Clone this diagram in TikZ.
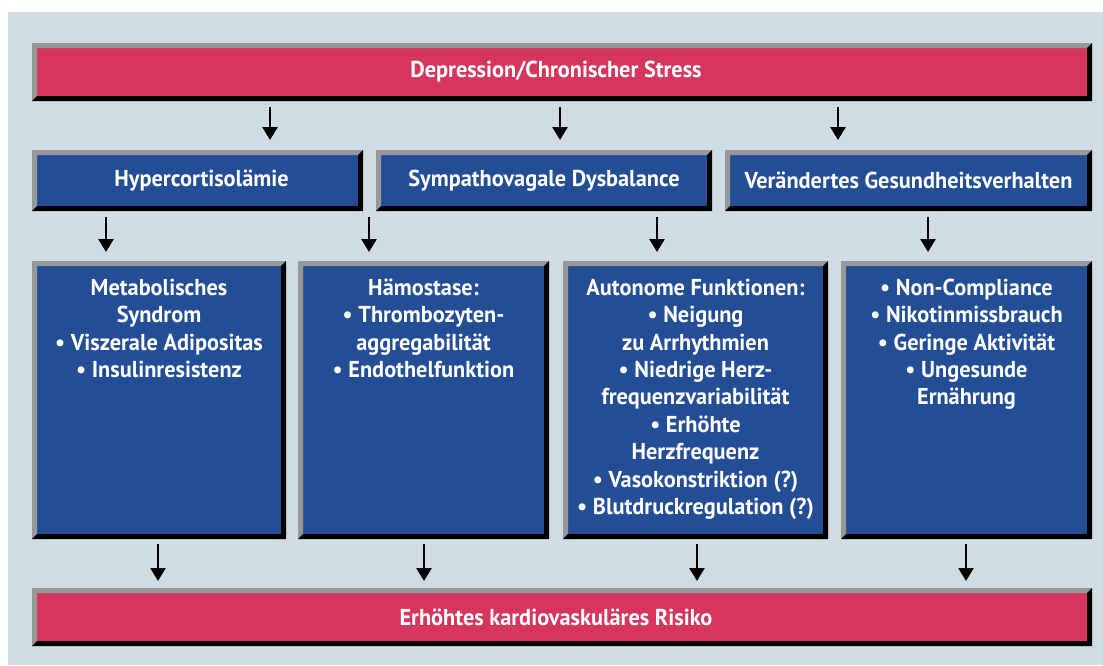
\documentclass[tikz,border=0pt]{standalone}
\usepackage{fontspec}
\setmainfont{PT Sans}[FakeStretch=0.97]
\usetikzlibrary{arrows.meta}

\definecolor{hgblau}{RGB}{207,220,228}
\definecolor{kastenrot}{RGB}{214,54,94}
\definecolor{kastenblau}{RGB}{35,78,150}
\definecolor{kantengrau}{RGB}{152,152,152}

\tikzset{
  kasten/.style={draw=none, inner sep=0pt, outer sep=0pt, anchor=north west},
  rot/.style={kasten, fill=kastenrot},
  blau/.style={kasten, fill=kastenblau},
  schrift/.style={text=white, inner sep=0pt, align=center,
    font=\bfseries\fontsize{23}{27.4}\selectfont},
  pfeil/.style={line width=2.6pt, -{Triangle[width=15pt,length=13pt]}},
}

\begin{document}
\begin{tikzpicture}[x=1pt,y=-1pt,line join=miter]
\useasboundingbox (0,0) rectangle (1103,665);
\fill[hgblau] (8,12) rectangle (1103,665);

% rote Balken oben und unten
\node[rot, minimum width=1060, minimum height=58] (stress) at (32,43) {};
\node[rot, minimum width=1060, minimum height=58] (risiko) at (32,588) {};

% mittlere Reihe
\node[blau, minimum width=331, minimum height=61] (hyper) at (32,150) {};
\node[blau, minimum width=336, minimum height=61] (sympa) at (376,150) {};
\node[blau, minimum width=367, minimum height=61] (verh) at (725,150) {};

% untere Reihe
\node[blau, minimum width=254, minimum height=278] (metab) at (32,261) {};
\node[blau, minimum width=251, minimum height=278] (haemo) at (298,261) {};
\node[blau, minimum width=265, minimum height=278] (auto) at (563,261) {};
\node[blau, minimum width=251, minimum height=278] (gesund) at (841,261) {};

% Kanten: oben/links grau, unten/rechts schwarz
\foreach \n in {stress,risiko,hyper,sympa,verh,metab,haemo,auto,gesund}{
  \fill[kantengrau] (\n.south west) -- (\n.north west) -- (\n.north east)
    -- ([shift={(-5,5)}]\n.north east) -- ([shift={(5,5)}]\n.north west)
    -- ([shift={(5,-5)}]\n.south west) -- cycle;
  \fill[black] (\n.north east) -- (\n.south east) -- (\n.south west)
    -- ([shift={(5,-5)}]\n.south west) -- ([shift={(-5,-5)}]\n.south east)
    -- ([shift={(-5,5)}]\n.north east) -- cycle;
}

% Beschriftungen
\node[schrift] (stress-t) at ([xshift=-6pt]stress.center) {Depression/Chronischer Stress};
\node[schrift] (risiko-t) at ([xshift=-6pt]risiko.center) {Erhöhtes kardiovaskuläres Risiko};
\node[schrift] (hyper-t) at ([xshift=4pt]hyper.center) {Hypercortisolämie};
\node[schrift] (sympa-t) at (sympa.center) {Sympathovagale Dysbalance};
\node[schrift] (verh-t) at (verh.center) {Verändertes Gesundheitsverhalten};

\node[schrift, anchor=north] (metab-t) at ([yshift=-15pt]metab.north)
  {\strut Metabolisches\\Syndrom\\• Viszerale Adipositas\\• Insulinresistenz};
\node[schrift, anchor=north] (haemo-t) at ([yshift=-15pt]haemo.north)
  {\strut Hämostase:\\• Thrombozyten-\\aggregabilität\\• Endothelfunktion};
\node[schrift, anchor=north] (auto-t) at ([yshift=-15pt]auto.north)
  {\strut Autonome Funktionen:\\• Neigung\\zu Arrhythmien\\• Niedrige Herz-\\frequenzvariabilität\\%
   • Erhöhte\\Herzfrequenz\\• Vasokonstriktion (?)\\• Blutdruckregulation (?)};
\node[schrift, anchor=north] (gesund-t) at ([yshift=-15pt]gesund.north)
  {\strut • Non-Compliance\\• Nikotinmissbrauch\\• Geringe Aktivität\\• Ungesunde\\Ernährung};

% Pfeile
\foreach \px/\a/\b in {270/stress/hyper, 560/stress/sympa, 838/stress/verh}{
  \coordinate (p) at (\px,0);
  \draw[pfeil, shorten <=6pt, shorten >=10pt] (\a.south -| p) -- (\b.north -| p);
}
\foreach \px/\a/\b in {106/hyper/metab, 369/hyper/haemo, 657/sympa/auto, 928/verh/gesund}{
  \coordinate (p) at (\px,0);
  \draw[pfeil, shorten <=6pt, shorten >=9pt] (\a.south -| p) -- (\b.north -| p);
}
\foreach \px/\a in {158/metab, 424/haemo, 697/auto, 966/gesund}{
  \coordinate (p) at (\px,0);
  \draw[pfeil, shorten <=5pt, shorten >=7pt] (\a.south -| p) -- (risiko.north -| p);
}
\end{tikzpicture}
\end{document}
